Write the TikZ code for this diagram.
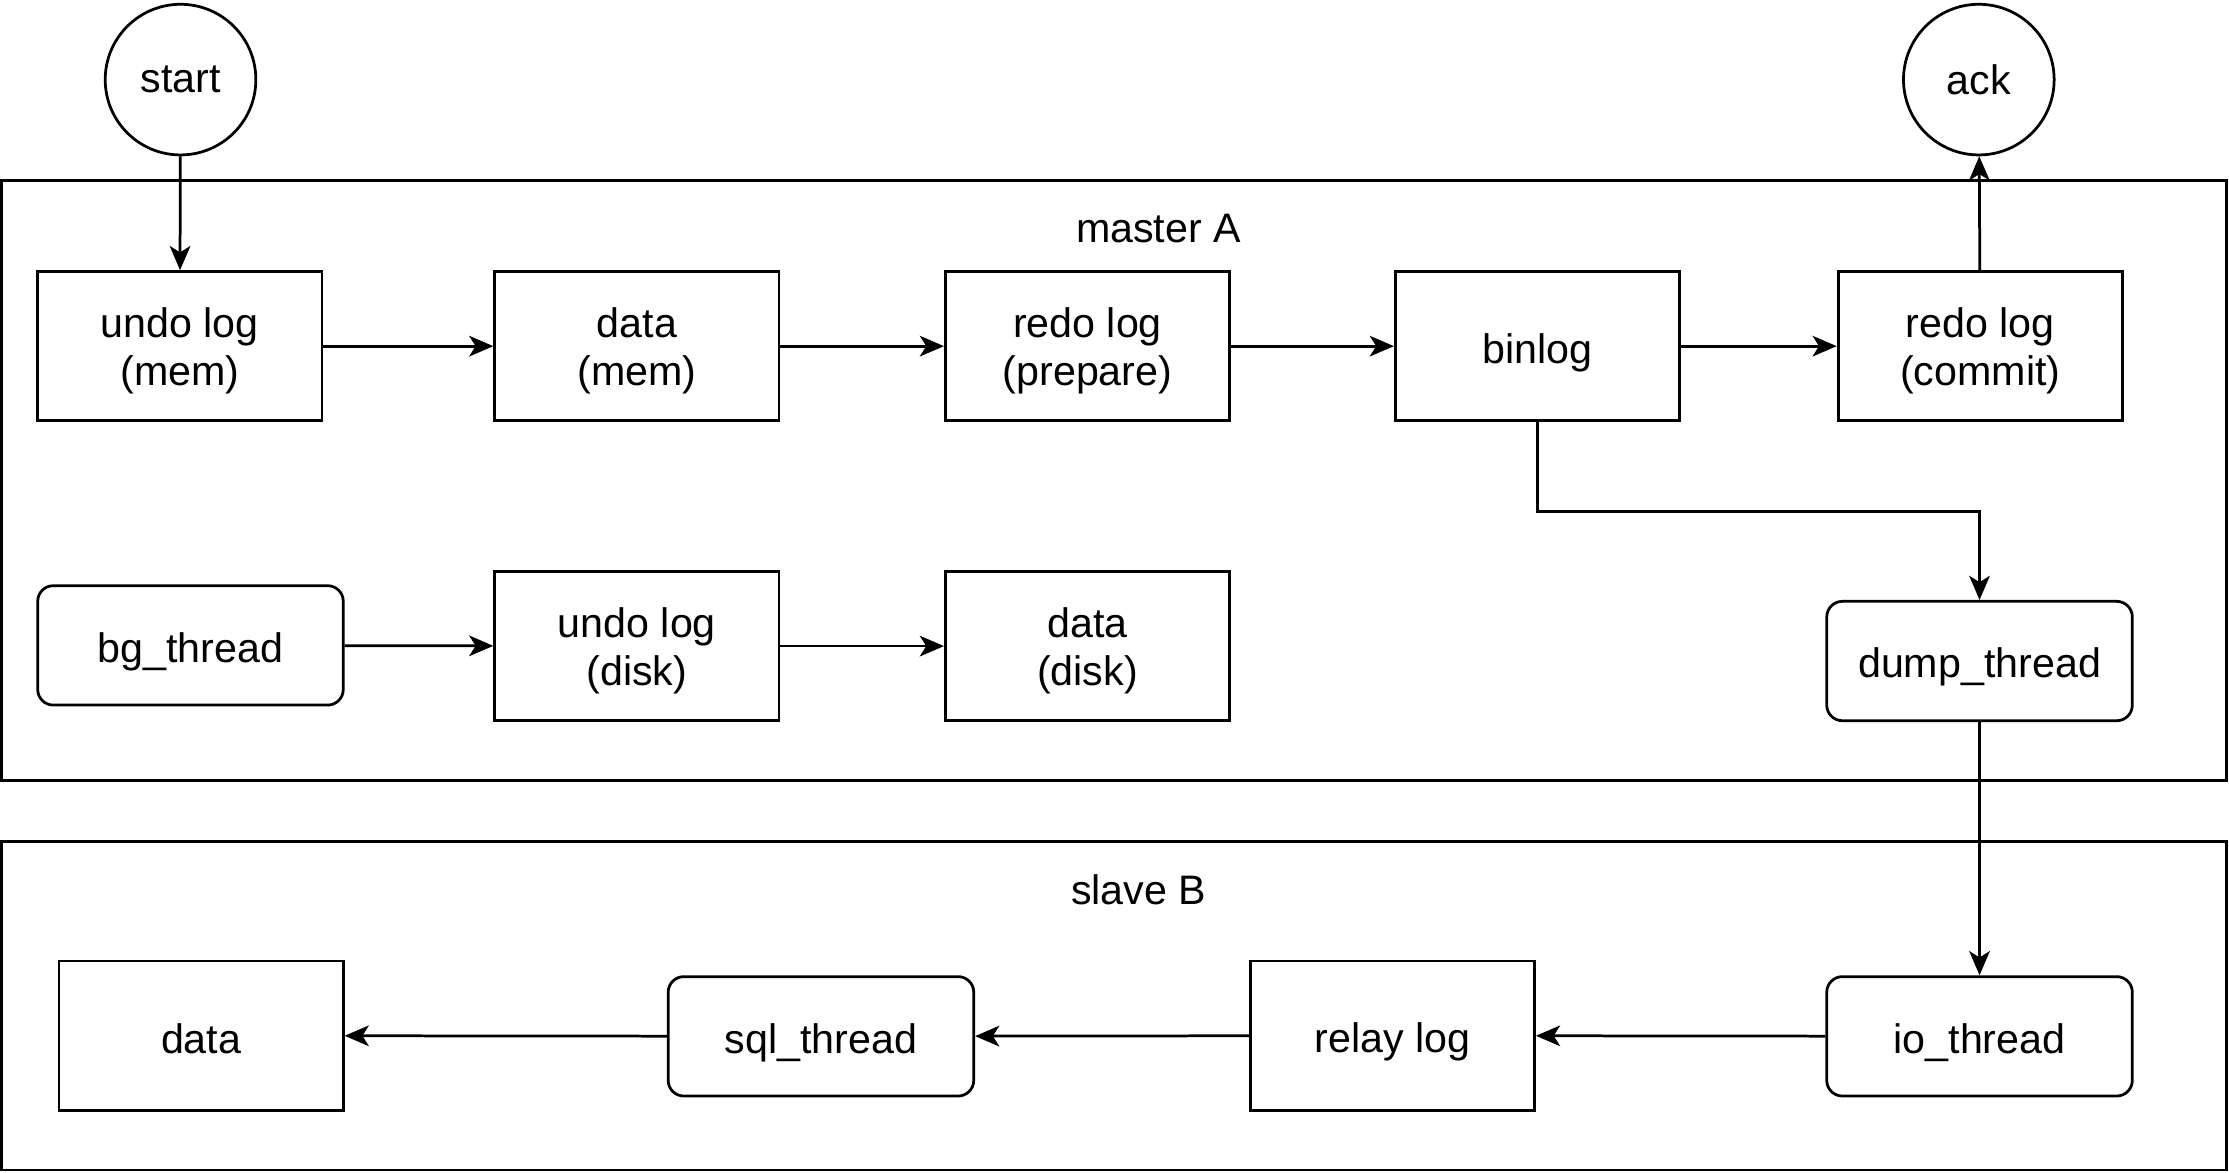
\documentclass[tikz,border=0pt]{standalone}
\usepackage{fontspec}
\setmainfont{Liberation Sans}
\usetikzlibrary{arrows.meta}

% a strut so every one-line box puts its text at the same height
\newcommand{\linestrut}{\rule[-3pt]{0pt}{20pt}}
% two centred lines, set a little low as in the boxes of the drawing
\newcommand{\twolines}[2]{\raisebox{-2.3pt}[\height][\depth]{\begin{tabular}{@{}c@{}}#1\\#2\end{tabular}}}

\tikzset{
    box/.style={draw, line width=1.1pt, minimum width=4cm, minimum height=2.1cm, align=center, inner sep=2pt,
        execute at begin node={\linestrut}},
    thread/.style={draw, line width=1.1pt, rounded corners=0.22cm, minimum width=4.3cm, minimum height=1.68cm, align=center,
        execute at begin node={\linestrut}},
    endpoint/.style={draw, line width=1.1pt, circle, minimum size=2.12cm, inner sep=0pt},
    frame/.style={draw, line width=1.1pt},
    arrow/.style={draw, line width=1.1pt, -{Stealth[length=0.34cm, width=0.29cm, inset=0.09cm]}}
}

\begin{document}
\begin{tikzpicture}[x=0.02cm, y=-0.02cm, font=\fontsize{16.5}{19.5}\selectfont]
    \useasboundingbox (0, 0) rectangle (1568, 825);
    % the two machines
    \draw[frame] (1, 127) rectangle (1566, 549);
    \draw[frame] (1, 592) rectangle (1566, 823);
    \node (masterA) at (815, 161) {master A};
    \node (slaveB) at (801, 626) {slave B};
    % start and end
    \node[endpoint] (start) at (127, 56) {start};
    \node[endpoint] (ack) at (1392, 56) {ack};
    % first row
    \node[box] (undomem) at (126.5, 243.5) {\twolines{undo log}{(mem)}};
    \node[box] (datamem) at (448, 243.5) {\twolines{data}{(mem)}};
    \node[box] (prepare) at (765, 243.5) {\twolines{redo log}{(prepare)}};
    \node[box] (binlog) at (1081.5, 243.5) {binlog};
    \node[box] (commit) at (1393, 243.5) {\twolines{redo log}{(commit)}};
    % second row
    \node[thread] (bg) at (134, 454) {bg\_thread};
    \node[box] (undodisk) at (448, 454.5) {\twolines{undo log}{(disk)}};
    \node[box] (datadisk) at (765, 454.5) {\twolines{data}{(disk)}};
    \node[thread] (dump) at (1392.5, 465) {dump\_thread};
    % slave row
    \node[box] (data) at (141.5, 728.5) {data};
    \node[thread] (sql) at (577.5, 729) {sql\_thread};
    \node[box] (relay) at (979.5, 728.5) {relay log};
    \node[thread] (io) at (1392.5, 729) {io\_thread};
    % arrows
    \draw[arrow] (start) -- (undomem);
    \draw[arrow] (undomem) -- (datamem);
    \draw[arrow] (datamem) -- (prepare);
    \draw[arrow] (prepare) -- (binlog);
    \draw[arrow] (binlog) -- (commit);
    \draw[arrow] (commit) -- (ack);
    \draw[arrow] (binlog.south) -- ++(0, 63) -| (dump.north);
    \draw[arrow] (bg) -- (undodisk);
    \draw[arrow] (undodisk) -- (datadisk);
    \draw[arrow] (dump) -- (io);
    \draw[arrow] (io) -- (relay);
    \draw[arrow] (relay) -- (sql);
    \draw[arrow] (sql) -- (data);
\end{tikzpicture}
\end{document}
